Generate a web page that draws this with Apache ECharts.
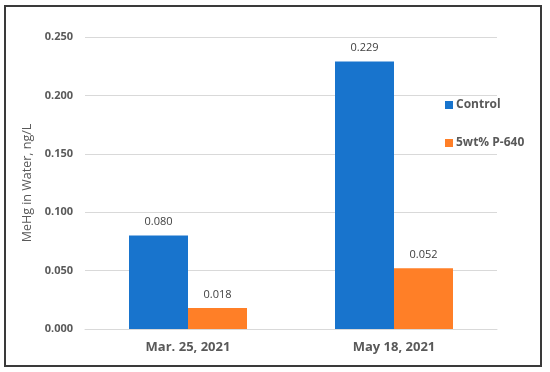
<!DOCTYPE html>
<html><head><meta charset="utf-8">
<script src="https://cdn.jsdelivr.net/npm/echarts@6/dist/echarts.min.js"></script>
<style>html,body{margin:0;padding:0;background:#fff}#c{width:550px;height:372px}</style>
</head><body><div id="c"></div>
<script>
const categories = ["Mar. 25, 2021", "May 18, 2021"];
const controlValues = [0.080, 0.229];
const p640Values = [0.018, 0.052];
const seriesNames = ["Control", "5wt% P-640"];
const yTicks = [0, 0.05, 0.1, 0.15, 0.2, 0.25];

const chart = echarts.init(document.getElementById('c'), null, {renderer: 'canvas'});
const font = '"Open Sans", "Noto Sans", sans-serif';
chart.setOption({
  animation: false,
  textStyle: {fontFamily: font},
  graphic: [{type: 'rect', shape: {x: 5, y: 6, width: 536, height: 360},
    style: {fill: 'none', stroke: '#3a3a3a', lineWidth: 2}, silent: true}],
  grid: {left: 85, right: 53, top: 37, bottom: 43},
  legend: {
    orient: 'vertical', left: 440, top: 94, itemGap: 26,
    itemWidth: 8, itemHeight: 8, icon: 'rect',
    textStyle: {fontSize: 12, fontWeight: 'bold', color: '#595959', fontFamily: font, padding: [0, 0, 0, -2]},
    data: seriesNames
  },
  xAxis: {
    type: 'category', data: categories,
    axisLine: {lineStyle: {color: '#d9d9d9'}},
    axisTick: {show: false},
    axisLabel: {fontSize: 13, fontWeight: 'bold', color: '#595959', margin: 12, fontFamily: font}
  },
  yAxis: {
    type: 'value', min: yTicks[0], max: yTicks[yTicks.length - 1], interval: 0.05,
    name: 'MeHg in Water, ng/L', nameLocation: 'middle', nameGap: 46,
    nameTextStyle: {fontSize: 12.5, color: '#595959', fontFamily: font},
    axisLine: {show: false}, axisTick: {show: false},
    axisLabel: {fontSize: 11, fontWeight: 'bold', color: '#595959', margin: 12,
      formatter: v => v.toFixed(3)},
    splitLine: {lineStyle: {color: '#d9d9d9'}}
  },
  series: [
    {name: seriesNames[0], type: 'bar', data: controlValues, barWidth: 59, barGap: '0%',
      itemStyle: {color: '#1874CD'},
      label: {show: true, position: 'top', distance: 8, fontSize: 11, color: '#404040',
        formatter: p => p.value.toFixed(3)}},
    {name: seriesNames[1], type: 'bar', data: p640Values, barWidth: 59, barGap: '0%',
      itemStyle: {color: '#FF7F27'},
      label: {show: true, position: 'top', distance: 8, fontSize: 11, color: '#404040',
        formatter: p => p.value.toFixed(3)}}
  ]
});
</script></body></html>
